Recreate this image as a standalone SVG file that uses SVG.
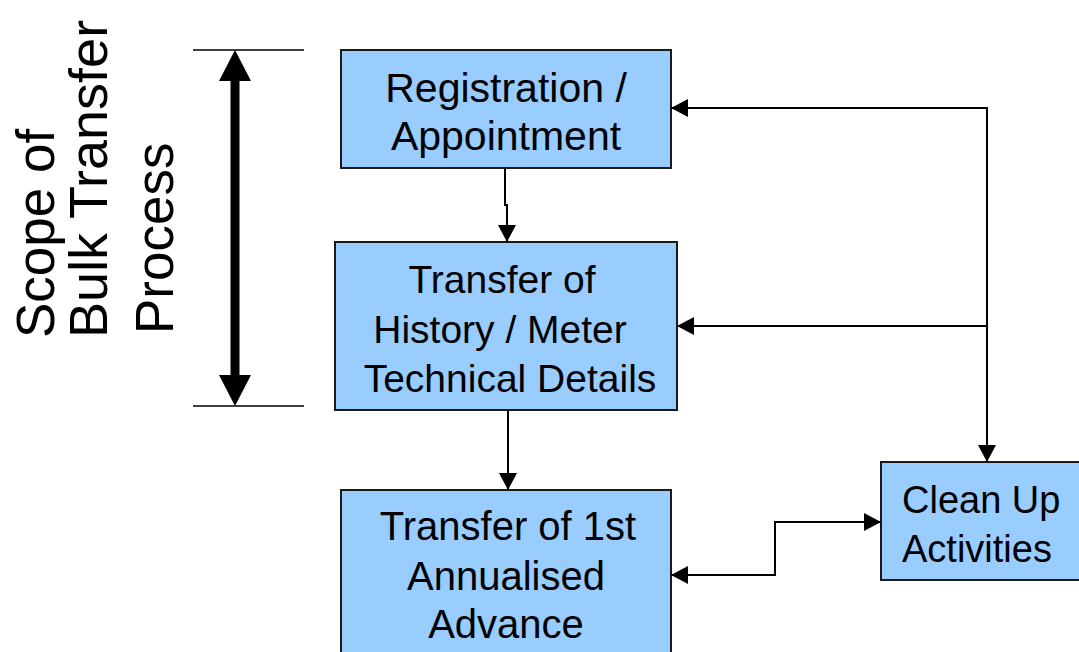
<svg xmlns="http://www.w3.org/2000/svg" width="1079" height="652" viewBox="0 0 1079 652">
<style>
.box{fill:#99CCFF;stroke:#1a1a1a;stroke-width:2}
.t{font-family:"Liberation Sans",Arial,sans-serif;fill:#000}
.c{fill:none;stroke:#000;stroke-width:2}
.thin{fill:none;stroke:#000;stroke-width:1.3}
</style>
<defs>
<marker id="ah" markerUnits="userSpaceOnUse" markerWidth="18" markerHeight="18" viewBox="0 0 18 18" refX="17" refY="9" orient="auto-start-reverse">
<path d="M0,0 L17,9 L0,18 z" fill="#000"/>
</marker>
</defs>
<rect width="1079" height="652" fill="#fff"/>
<g id="scope">
<line class="thin" x1="193" y1="50" x2="304" y2="50"/>
<line class="thin" x1="193" y1="406" x2="304" y2="406"/>
<line x1="235" y1="78" x2="235" y2="378" stroke="#000" stroke-width="9"/>
<polygon points="235,50 219,81 251,81" fill="#000"/>
<polygon points="235,406 219,375 251,375" fill="#000"/>
<text class="t" font-size="53" transform="translate(54,338) rotate(-90)">Scope of</text>
<text class="t" font-size="54" transform="translate(107,338) rotate(-90)">Bulk Transfer</text>
<text class="t" font-size="53" transform="translate(173,334) rotate(-90)">Process</text>
</g>
<g id="registration">
<rect class="box" x="341" y="50" width="330" height="118"/>
<text class="t" font-size="41" text-anchor="middle" x="506" y="102">Registration /</text>
<text class="t" font-size="41" text-anchor="middle" x="506" y="150">Appointment</text>
</g>
<g id="history">
<rect class="box" x="335" y="242" width="342" height="168"/>
<text class="t" font-size="39" text-anchor="middle" x="502" y="293">Transfer of</text>
<text class="t" font-size="39" text-anchor="middle" x="500" y="343">History / Meter</text>
<text class="t" font-size="39" text-anchor="middle" x="510" y="392">Technical Details</text>
</g>
<g id="advance">
<rect class="box" x="341" y="490" width="330" height="175"/>
<text class="t" font-size="40" text-anchor="middle" x="508" y="540">Transfer of 1st</text>
<text class="t" font-size="40" text-anchor="middle" x="506" y="590">Annualised</text>
<text class="t" font-size="40" text-anchor="middle" x="506" y="638">Advance</text>
</g>
<g id="cleanup">
<rect class="box" x="881" y="462" width="210" height="118"/>
<text class="t" font-size="38" x="902" y="513">Clean Up</text>
<text class="t" font-size="38" x="902" y="562">Activities</text>
</g>
<g id="connectors">
<path class="c" d="M505,168 V205 H507 V242" marker-end="url(#ah)"/>
<path class="c" d="M508,410 V490" marker-end="url(#ah)"/>
<path class="c" d="M987,326 V108 H671" marker-end="url(#ah)"/>
<path class="c" d="M987,326 H677" marker-end="url(#ah)"/>
<path class="c" d="M987,326 V462" stroke-width="2.5" marker-end="url(#ah)"/>
<path class="c" d="M671,575 H775 V522 H881" marker-start="url(#ah)" marker-end="url(#ah)"/>
</g>
</svg>
